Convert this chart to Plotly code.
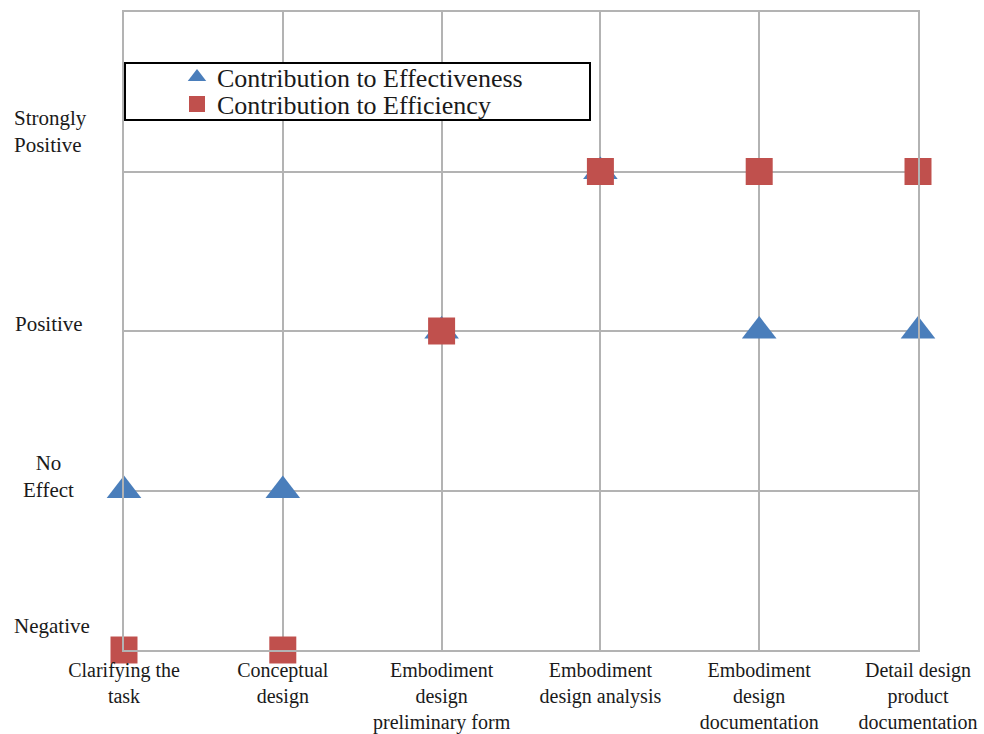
import plotly.graph_objects as go

phases = ["Clarifying the<br>task", "Conceptual<br>design", "Embodiment<br>design<br>preliminary form",
          "Embodiment<br>design analysis", "Embodiment<br>design<br>documentation",
          "Detail design<br>product<br>documentation"]
levels = ["Negative", "No<br>Effect", "Positive", "Strongly<br>Positive"]
effectiveness = [1, 1, 2, 3, 2, 2]
efficiency = [0, 0, 2, 3, 3, 3]

xs = list(range(len(phases)))
FONT = "Liberation Serif, Times New Roman, serif"
GRID = "#b3b3b3"
TXT = "#1a1a1a"

# plot area target: x 124..918, y 12..650 in window pixels
W, H = 984, 734
L, T, R, B = 124, 12, 918, 650
PW, PH = R - L, B - T


def px(xw):
    return (xw - L) / PW


def py(yw):
    return (B - yw) / PH


fig = go.Figure()
fig.add_trace(go.Scatter(x=xs, y=effectiveness, mode="markers", name="Contribution to Effectiveness",
                         marker=dict(symbol="triangle-up", size=30, color="#4a7ebb"), cliponaxis=False,
                         legend="legend"))
fig.add_trace(go.Scatter(x=xs, y=efficiency, mode="markers", name="Contribution to Efficiency",
                         marker=dict(symbol="square", size=27, color="#c0504d"), cliponaxis=False,
                         legend="legend2"))

# y-axis category labels as annotations
yshift = [24, 14, 7, 40]
xpos = [12, 48, 13, 12]
align = ["left", "center", "left", "left"]
for i, lab in enumerate(levels):
    fig.add_annotation(text=lab, xref="paper", yref="y", y=i, yshift=yshift[i],
                       x=px(xpos[i]), xanchor="center" if align[i] == "center" else "left",
                       align=align[i], showarrow=False, font=dict(family=FONT, size=21, color=TXT))

fig.add_shape(type="rect", xref="paper", yref="paper", x0=px(125), x1=px(590),
              y0=py(120), y1=py(63), line=dict(color="black", width=2),
              fillcolor="white", layer="above")

leg_common = dict(xanchor="left", yanchor="middle", bgcolor="rgba(0,0,0,0)", borderwidth=0,
                  font=dict(family=FONT, size=26, color=TXT), itemsizing="trace")

fig.update_layout(
    width=W, height=H, margin=dict(l=L, r=W - R, t=T, b=H - B, autoexpand=False),
    paper_bgcolor="white", plot_bgcolor="white",
    font=dict(family=FONT, size=21, color=TXT),
    showlegend=True,
    legend=dict(x=px(177), y=py(77), **leg_common),
    legend2=dict(x=px(177), y=py(104), **leg_common),
    xaxis=dict(range=[0, 5], tickvals=xs, ticktext=phases, showgrid=True, gridcolor=GRID, gridwidth=1.5,
               showline=True, mirror=True, linecolor=GRID, linewidth=1.5, zeroline=False, ticks="",
               tickfont=dict(family=FONT, size=20, color=TXT), ticklabelstandoff=1, automargin=False),
    yaxis=dict(range=[0, 4], tickvals=[0, 1, 2, 3, 4], showticklabels=False, showgrid=True, gridcolor=GRID,
               gridwidth=1.5, showline=True, mirror=True, linecolor=GRID, linewidth=1.5, zeroline=False,
               ticks="", automargin=False),
)

fig.write_html("out.html", config={"displayModeBar": False},
               post_script="document.body.style.margin='0';document.body.style.overflow='hidden';")
